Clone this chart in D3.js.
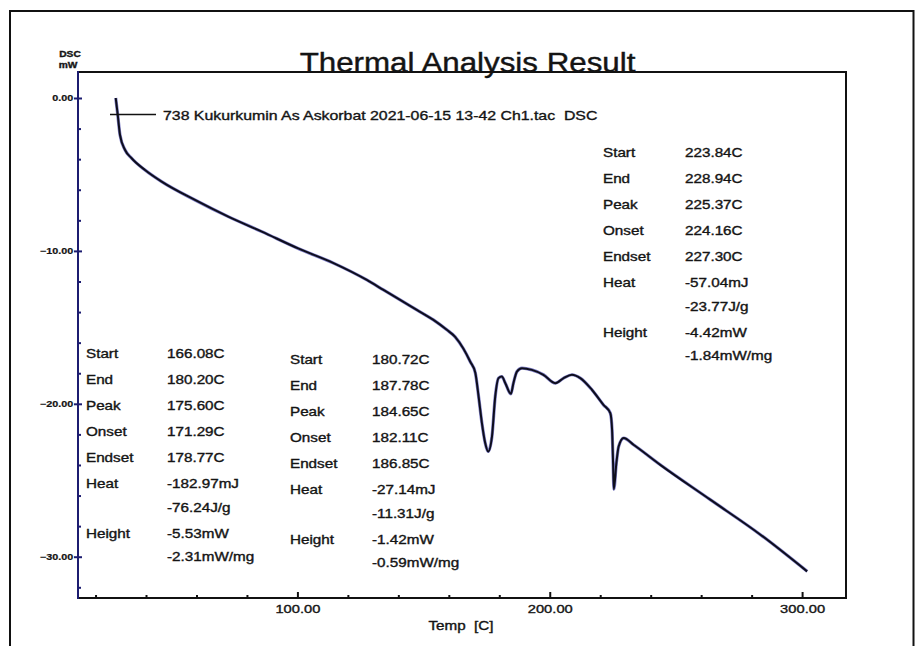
<!DOCTYPE html>
<html>
<head>
<meta charset="utf-8">
<script src="https://cdn.jsdelivr.net/npm/d3@7"></script>
<style>
  html, body { margin: 0; padding: 0; background: #fff; }
  svg text { font-family: "Liberation Sans", Arial, sans-serif; fill: #141414; stroke: #141414; stroke-width: 0.35px; }
</style>
</head>
<body>
<svg id="chart" width="917" height="646"></svg>
<script>
// ---------------- data ----------------
const temps = [28.0, 28.8, 29.7, 31.7, 34.3, 39.6, 46.2, 59.4, 72.6, 85.9, 100.3, 114.3, 127.5, 134.1, 140.7,
  147.3, 153.9, 159.2, 162.5, 165.8, 168.5, 170.5, 171.8, 173.1, 174.4, 175.6, 177.1, 178.4, 179.7, 181.0,
  182.4, 184.6, 185.6, 187.0, 189.0, 192.9, 197.5, 202.2, 205.5, 208.8, 212.1, 216.7, 221.3, 224.0, 224.7,
  225.1, 225.4, 226.4, 227.3, 229.3, 233.2, 243.8, 263.6, 283.5, 302.0];
const dsc = [0.0, -1.11, -2.42, -3.40, -3.94, -4.71, -5.47, -6.67, -7.76, -8.74, -9.84, -10.80, -11.90, -12.55, -13.20,
  -13.86, -14.51, -15.16, -15.62, -16.40, -17.25, -17.97, -19.52, -21.24, -22.55, -23.12, -22.14, -19.52, -18.32, -18.22,
  -18.65, -19.35, -18.65, -17.89, -17.67, -17.78, -18.10, -18.65, -18.32, -18.10, -18.32, -19.08, -20.07, -20.61, -21.70,
  -23.88, -25.58, -23.88, -22.79, -22.24, -22.68, -23.99, -26.27, -28.56, -30.96];

const xMajorTicks = [100, 200, 300];
const xMinorTicks = [20, 40, 60, 80, 120, 140, 160, 180, 220, 240, 260, 280];
const yMajorTicks = [0, -10, -20, -30];
const yMinorTicks = [-2, -4, -6, -8, -12, -14, -16, -18, -22, -24, -26, -28, -32];

const title = "Thermal Analysis Result";
const seriesName = "738 Kukurkumin As Askorbat 2021-06-15 13-42 Ch1.tac  DSC";
const xTitle = "Temp  [C]";
const yTitle = ["DSC", "mW"];

const rowLabels = ["Start", "End", "Peak", "Onset", "Endset", "Heat", "", "Height", ""];
const block1Values = ["166.08C", "180.20C", "175.60C", "171.29C", "178.77C", "-182.97mJ", "-76.24J/g", "-5.53mW", "-2.31mW/mg"];
const block2Values = ["180.72C", "187.78C", "184.65C", "182.11C", "186.85C", "-27.14mJ", "-11.31J/g", "-1.42mW", "-0.59mW/mg"];
const block3Values = ["223.84C", "228.94C", "225.37C", "224.16C", "227.30C", "-57.04mJ", "-23.77J/g", "-4.42mW", "-1.84mW/mg"];

// ---------------- layout ----------------
const svg = d3.select("#chart");
const L = 78, R = 846, T = 72, B = 598;
const x = d3.scaleLinear().domain([13.05, 317.4]).range([L, R]);
const y = d3.scaleLinear().domain([1.7, -32.7]).range([T, B]);

function txt(g, px, py, s, size, sx, anchor, extra) {
  const t = g.append("text")
    .attr("transform", `translate(${px},${py}) scale(${sx},1)`)
    .attr("text-anchor", anchor || "start")
    .style("font-size", size + "px")
    .style("white-space", "pre")
    .text(s);
  if (extra) extra(t);
  return t;
}

// outer frame
svg.append("rect").attr("x", 10).attr("y", 11).attr("width", 903.5).attr("height", 660)
  .attr("fill", "none").attr("stroke", "#111").attr("stroke-width", 2);

// plot box: top & right
svg.append("path")
  .attr("d", `M${L},${T}H${R}V${B}`)
  .attr("fill", "none").attr("stroke", "#111").attr("stroke-width", 2);

// title
txt(svg, 467.5, 72, title, 27, 1.16, "middle", t => t.style("stroke-width", "0.4px"));

// Y axis title
txt(svg, 70, 57, yTitle[0], 8.5, 1.2, "middle", t => t.style("font-weight", "bold"));
txt(svg, 68, 68, yTitle[1], 8.5, 1.2, "middle", t => t.style("font-weight", "bold"));

// X axis: minor ticks (inward), major ticks (inward), labels
const gx = svg.append("g").attr("transform", `translate(0,${B})`);
gx.append("g").call(d3.axisTop(x).tickValues(xMinorTicks).tickSize(3).tickFormat(""))
  .call(g => g.select(".domain").remove())
  .call(g => g.selectAll("line").attr("stroke", "#111").attr("stroke-width", 2));
gx.append("g").call(d3.axisTop(x).tickValues(xMajorTicks).tickSize(6).tickFormat(""))
  .call(g => g.select(".domain").remove())
  .call(g => g.selectAll("line").attr("stroke", "#111").attr("stroke-width", 2));
gx.append("g").call(d3.axisBottom(x).tickValues(xMajorTicks).tickSize(0).tickPadding(7).tickFormat(d3.format(".2f")))
  .call(g => g.select(".domain").remove())
  .call(g => g.selectAll("text")
    .attr("fill", "#141414")
    .style("font-family", '"Liberation Sans", Arial, sans-serif')
    .style("font-size", "11.5px")
    .attr("transform", "scale(1.28,1)"));
svg.append("line").attr("x1", L - 1).attr("x2", R + 1).attr("y1", B).attr("y2", B)
  .attr("stroke", "#111").attr("stroke-width", 2);

// X axis title
txt(svg, 461, 630, xTitle, 12, 1.27, "middle");

// Y axis
const gy = svg.append("g").attr("transform", `translate(${L},0)`);
gy.append("g").call(d3.axisRight(y).tickValues(yMinorTicks).tickSize(3).tickFormat(""))
  .call(g => g.select(".domain").remove())
  .call(g => g.selectAll("line").attr("stroke", "#1c1c70").attr("stroke-width", 2));
gy.append("g").call(d3.axisRight(y).tickValues(yMajorTicks).tickSize(4).tickFormat(""))
  .call(g => g.select(".domain").remove())
  .call(g => g.selectAll("line").attr("stroke", "#1c1c70").attr("stroke-width", 2));
gy.append("g").call(d3.axisLeft(y).tickValues(yMajorTicks).tickSize(4).tickPadding(0).tickFormat(d3.format(".2f")))
  .call(g => g.select(".domain").remove())
  .call(g => g.selectAll("line").attr("stroke", "#1c1c70").attr("stroke-width", 2))
  .call(g => g.selectAll("text")
    .attr("fill", "#141414")
    .style("font-family", '"Liberation Sans", Arial, sans-serif')
    .style("font-size", "9px")
    .style("font-weight", "bold")
    .style("stroke-width", "0.2px")
    .attr("transform", "scale(1.2,1)"));
svg.append("line").attr("x1", L).attr("x2", L).attr("y1", T - 1).attr("y2", B + 1)
  .attr("stroke", "#1c1c70").attr("stroke-width", 2);

// curve
const pts = temps.map((t, i) => [t, dsc[i]]);
const lineGen = d3.line().x(d => x(d[0])).y(d => y(d[1])).curve(d3.curveMonotoneX);
svg.append("path")
  .datum(pts)
  .attr("fill", "none")
  .attr("stroke", "#2a2aa0").attr("stroke-width", 3.2).attr("stroke-opacity", 0.6)
  .attr("d", lineGen);
svg.append("path")
  .datum(pts)
  .attr("fill", "none")
  .attr("stroke", "#0e0e1c").attr("stroke-width", 2)
  .attr("d", lineGen);

// series legend
svg.append("line").attr("x1", 110).attr("x2", 156).attr("y1", 114.5).attr("y2", 114.5)
  .attr("stroke", "#111").attr("stroke-width", 1.6);
txt(svg, 163, 120, seriesName, 12.5, 1.27, "start");

// result blocks
const rowOffsets = [0, 26, 52, 78, 104, 130, 154, 180, 203];
function block(x0, y0, valueDx, values) {
  const g = svg.append("g");
  rowLabels.forEach((lab, i) => {
    if (lab) txt(g, x0, y0 + rowOffsets[i], lab, 12, 1.27, "start");
    txt(g, x0 + valueDx, y0 + rowOffsets[i], values[i], 12, 1.27, "start");
  });
}
block(86, 358, 81, block1Values);
block(290, 364, 82, block2Values);
block(603, 157, 82, block3Values);
</script>
</body>
</html>
